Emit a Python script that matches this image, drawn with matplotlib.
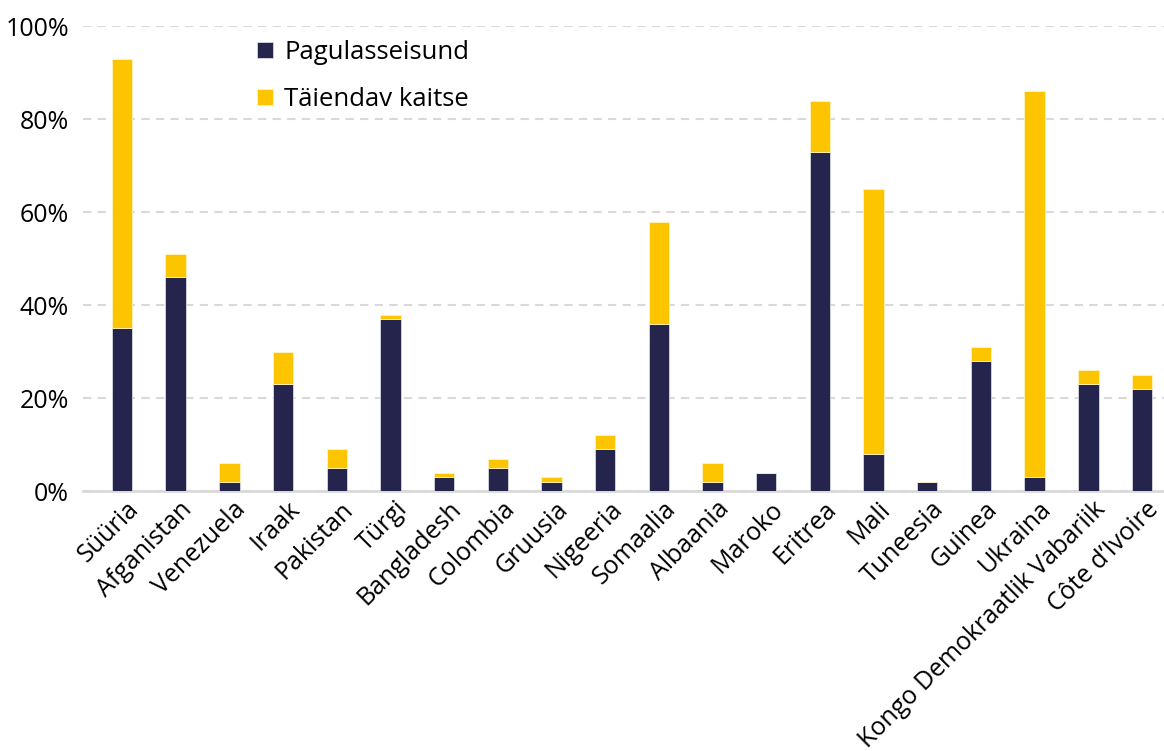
import matplotlib.pyplot as plt
from matplotlib.ticker import PercentFormatter
from matplotlib.transforms import ScaledTranslation

plt.rcParams['font.family'] = ['Open Sans', 'DejaVu Sans']

riigid = ["Süüria", "Afganistan", "Venezuela", "Iraak", "Pakistan", "Türgi",
          "Bangladesh", "Colombia", "Gruusia", "Nigeeria", "Somaalia", "Albaania",
          "Maroko", "Eritrea", "Mali", "Tuneesia", "Guinea", "Ukraina",
          "Kongo Demokraatlik Vabariik", "Côte d’Ivoire"]

# protsent otsustest
pagulane = [35, 46, 2, 23, 5, 37, 3, 5, 2, 9, 36, 2, 4, 73, 8, 2, 28, 3, 23, 22]
taiendav = [58, 5, 4, 7, 4, 1, 1, 2, 1, 3, 22, 4, 0, 11, 57, 0, 3, 83, 3, 3]

sinine = "#24244d"
kollane = "#fcc500"

fig = plt.figure(figsize=(11.64, 7.51), dpi=100)
ax = fig.add_axes([0.0713, 0.346, 0.9287, 0.619])

x = range(len(riigid))
ax.bar(x, pagulane, width=0.38, color=sinine, edgecolor="#d8d8e0", linewidth=0.6,
       label="Pagulasseisund", zorder=3)
ax.bar(x, taiendav, width=0.38, bottom=pagulane, color=kollane, edgecolor="#fff3c0",
       linewidth=0.6, label="Täiendav kaitse", zorder=3)

ax.set_ylim(0, 100)
ax.set_xlim(-0.726, 19.41)
ax.set_yticks([0, 20, 40, 60, 80, 100])
ax.yaxis.set_major_formatter(PercentFormatter(decimals=0))
ax.grid(axis="y", color="#d9d9d9", linestyle=(0, (4, 3)), linewidth=1.5, zorder=0)

for s in ["top", "right", "left"]:
    ax.spines[s].set_visible(False)
ax.spines["bottom"].set_color("#d9d9d9")
ax.spines["bottom"].set_linewidth(2)

ax.tick_params(axis="y", length=0, labelsize=18, pad=10)
ax.tick_params(axis="x", length=0, labelsize=18, pad=4)
ax.set_xticks(list(x))
ax.set_xticklabels(riigid, rotation=45, ha="right", rotation_mode="anchor")
nihe = ScaledTranslation(3 / 72, 0, fig.dpi_scale_trans)
for t in ax.get_xticklabels():
    t.set_transform(t.get_transform() + nihe)

leg = ax.legend(loc="upper left", bbox_to_anchor=(0.14, 1.02), frameon=False,
                fontsize=18.5, handlelength=0.6, handleheight=0.6,
                labelspacing=0.85, handletextpad=0.45)

fig.savefig("out.png", dpi=100)
